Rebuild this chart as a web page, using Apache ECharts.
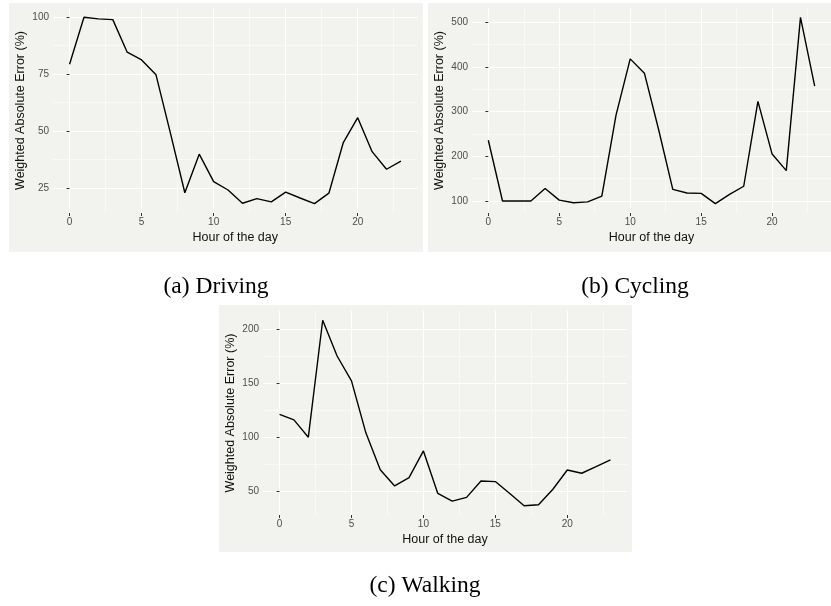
<!DOCTYPE html>
<html><head><meta charset="utf-8">
<script src="https://cdn.jsdelivr.net/npm/echarts@6/dist/echarts.min.js"></script>
<style>html,body{margin:0;padding:0;background:#fff}#c{width:831px;height:606px}</style>
</head><body><div id="c"></div>
<script>
// ---- data ----
const hours = [0,1,2,3,4,5,6,7,8,9,10,11,12,13,14,15,16,17,18,19,20,21,22,23];
const driving = [79.2,99.8,99.1,98.8,84.5,81.1,74.6,49.0,22.9,39.8,27.8,24.1,18.3,20.3,18.9,23.2,20.6,18.1,22.7,44.9,55.8,40.9,33.2,36.8];
const cycling = [236,100,100,100,128,102,96,98,111,292,418,386,260,126,118,117,94,115,133,323,205,168,511,357];
const walking = [121,116,100,208,175,152,104,70,55,62.6,87.3,48,41,44.4,59.5,59,48,36.7,37.6,51.9,69.7,66.7,72.8,79];
const xTicks = [0,5,10,15,20];
const xMinorTicks = [2.5,7.5,12.5,17.5,22.5];
const drivingTicks = [25,50,75,100];
const drivingMinor = [12.5,37.5,62.5,87.5];
const cyclingTicks = [100,200,300,400,500];
const cyclingMinor = [50,150,250,350,450,550];
const walkingTicks = [50,100,150,200];
const walkingMinor = [25,75,125,175,225];
const captions = ['(a) Driving','(b) Cycling','(c) Walking'];
const yTitle = 'Weighted Absolute Error (%)';
const xTitle = 'Hour of the day';

// ---- layout ----
const BG = '#F2F2EE';
const FONT = 'Liberation Sans';
const panels = [
  {values: driving, ticks: drivingTicks, minor: drivingMinor, grid: {left: 53, top: 8, width: 364.5, height: 205}, bg: [9, 3, 414, 249], cap: [216, 287]},
  {values: cycling, ticks: cyclingTicks, minor: cyclingMinor, grid: {left: 472, top: 8, width: 364, height: 205}, bg: [428, 3, 420, 249], cap: [635, 287]},
  {values: walking, ticks: walkingTicks, minor: walkingMinor, grid: {left: 263, top: 311, width: 364, height: 204}, bg: [219, 305, 413, 247], cap: [425, 586]}
];

function expand(arr) {
  const mn = Math.min(...arr), mx = Math.max(...arr), r = mx - mn;
  return [mn - 0.05 * r, mx + 0.05 * r];
}

const grid = [], xAxis = [], yAxis = [], series = [], graphic = [];
panels.forEach((p, i) => {
  grid.push(Object.assign({containLabel: false}, p.grid));
  const xr = expand(hours), yr = expand(p.values);
  const gi = i;
  xAxis.push({
    type: 'value', gridIndex: gi, min: xr[0], max: xr[1],
    axisLine: {show: false},
    axisTick: {show: true, length: 3, customValues: xTicks, lineStyle: {color: '#333', width: 1}},
    axisLabel: {show: true, customValues: xTicks, margin: 4, color: '#4D4D4D', fontSize: 10, fontFamily: FONT},
    splitLine: {show: true, lineStyle: {color: '#FFFFFF', width: 1.1}},
    name: xTitle, nameLocation: 'middle', nameGap: 18,
    nameTextStyle: {color: '#111', fontSize: 12.5, fontFamily: FONT}
  });
  yAxis.push({
    type: 'value', gridIndex: gi, min: yr[0], max: yr[1],
    axisLine: {show: false},
    axisTick: {show: true, length: 3, customValues: p.ticks, lineStyle: {color: '#333', width: 1}},
    axisLabel: {show: true, customValues: p.ticks, margin: 4, color: '#4D4D4D', fontSize: 10, fontFamily: FONT},
    splitLine: {show: true, lineStyle: {color: '#FFFFFF', width: 1.1}},
    name: yTitle, nameLocation: 'middle', nameGap: 26,
    nameTextStyle: {color: '#111', fontSize: 12.5, fontFamily: FONT}
  });
  xAxis.push({
    type: 'value', gridIndex: gi, min: xr[0], max: xr[1],
    axisLine: {show: false},
    axisTick: {show: false, customValues: xMinorTicks},
    axisLabel: {show: false, customValues: xMinorTicks},
    splitLine: {show: true, lineStyle: {color: '#FFFFFF', width: 0.55}}
  });
  yAxis.push({
    type: 'value', gridIndex: gi, min: yr[0], max: yr[1],
    axisLine: {show: false},
    axisTick: {show: false, customValues: p.minor},
    axisLabel: {show: false, customValues: p.minor},
    splitLine: {show: true, lineStyle: {color: '#FFFFFF', width: 0.55}}
  });
  series.push({
    type: 'line', xAxisIndex: 2 * i, yAxisIndex: 2 * i,
    data: hours.map((h, k) => [h, p.values[k]]),
    showSymbol: false, symbol: 'none',
    lineStyle: {color: '#000', width: 1.4},
    z: 5, animation: false
  });
  graphic.push({
    type: 'rect', z: -10, silent: true,
    shape: {x: p.bg[0], y: p.bg[1], width: p.bg[2], height: p.bg[3]},
    style: {fill: BG}
  });
  graphic.push({
    type: 'text', z: 10, silent: true,
    x: p.cap[0], y: p.cap[1],
    style: {text: captions[i], fill: '#000', font: '23.5px "Liberation Serif"', textAlign: 'center', textVerticalAlign: 'middle'}
  });
});

const chart = echarts.init(document.getElementById('c'), null, {renderer: 'canvas'});
chart.setOption({
  backgroundColor: '#FFFFFF',
  animation: false,
  grid, xAxis, yAxis, series,
  graphic: {elements: graphic}
});
</script></body></html>
